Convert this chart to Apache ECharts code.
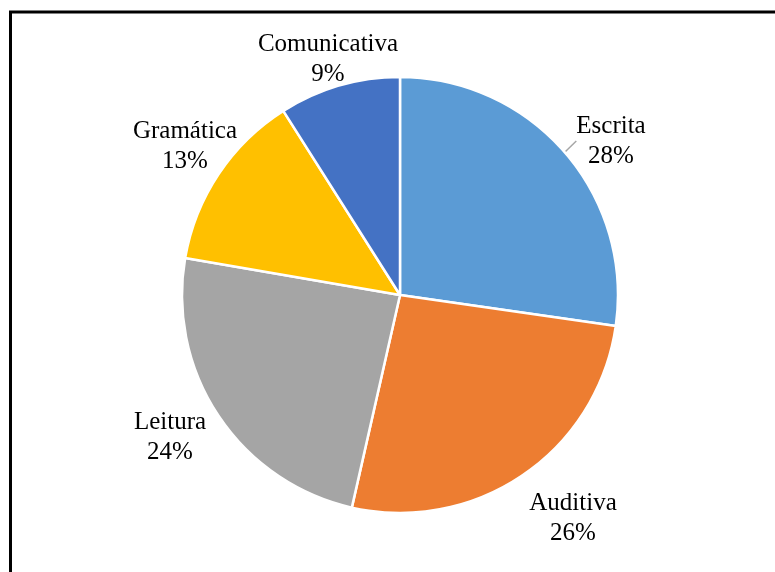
<!DOCTYPE html>
<html><head><meta charset="utf-8">
<script src="https://cdn.jsdelivr.net/npm/echarts@6/dist/echarts.min.js"></script>
<style>html,body{margin:0;padding:0;background:#fff}#c{width:775px;height:572px}</style>
</head><body><div id="c"></div>
<script>
var categories = ['Escrita', 'Auditiva', 'Leitura', 'Gramática', 'Comunicativa'];
var values = [27.3, 26.3, 24.2, 13.3, 9.0];
var shownPercent = ['28%', '26%', '24%', '13%', '9%'];
var colors = ['#5B9BD5', '#ED7D31', '#A5A5A5', '#FFC000', '#4472C4'];
var labelPos = [[611, 141], [573, 518], [170, 437], [185, 146], [328, 59]];

var chart = echarts.init(document.getElementById('c'), null, {renderer: 'canvas'});
var data = categories.map(function (c, i) {
  return {
    name: c, value: values[i],
    itemStyle: {color: colors[i]},
    labelLine: {show: i === 0, lineStyle: {color: '#A6A6A6', width: 1.5}}
  };
});
chart.setOption({
  animation: false,
  graphic: [{
    type: 'rect', shape: {x: 10.5, y: 12, width: 900, height: 700},
    style: {fill: 'none', stroke: '#000', lineWidth: 3}, z: 100
  }],
  series: [{
    type: 'pie',
    center: [400, 295],
    radius: 218,
    startAngle: 90,
    clockwise: true,
    data: data,
    itemStyle: {borderColor: '#fff', borderWidth: 2.5},
    label: {
      show: true,
      position: 'outside',
      formatter: function (p) { return p.name + '\n' + shownPercent[p.dataIndex]; },
      fontFamily: '"Liberation Serif", "Times New Roman", serif',
      fontSize: 25,
      lineHeight: 30,
      color: '#000',
      align: 'center'
    },
    labelLine: {length: 8, length2: 0, smooth: false},
    labelLayout: function (p) {
      var pos = labelPos[p.dataIndex];
      return {x: pos[0], y: pos[1], align: 'center', verticalAlign: 'middle'};
    }
  }]
});
</script></body></html>
